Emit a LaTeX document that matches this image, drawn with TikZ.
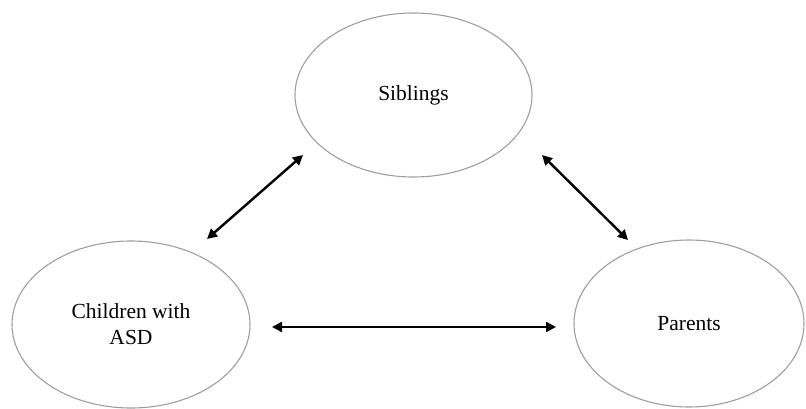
\documentclass[tikz,border=0pt]{standalone}
\usepackage{fontspec}
\setmainfont{Liberation Serif}
\usetikzlibrary{shapes.geometric,arrows.meta}
\begin{document}
\begin{tikzpicture}[x=1pt,y=-1pt,
  circ/.style={draw=black!38, line width=1.1pt, ellipse, inner sep=0pt, font=\fontsize{21.5}{26}\selectfont, align=center},
  link/.style={line width=2.4pt, {Triangle[length=10pt,width=10pt]}-{Triangle[length=10pt,width=10pt]}}]
\useasboundingbox (0,0) rectangle (806,409);
\node[circ, minimum width=237pt, minimum height=164pt] (sib) at (413.5,95) {Siblings};
\node[circ, minimum width=238pt, minimum height=167pt] (chi) at (131,324.5) {Children with\\ASD};
\node[circ, minimum width=230pt, minimum height=167pt] (par) at (689,323.5) {Parents};
\coordinate (sl) at (303,155);
\coordinate (cl) at (207,239);
\coordinate (sr) at (542,155);
\coordinate (pr) at (628,240);
\coordinate (ch) at (272,327);
\coordinate (ph) at (556,327);
\draw[link] (sl) -- (cl);
\draw[link] (sr) -- (pr);
\draw[link] (ch) -- (ph);
\end{tikzpicture}
\end{document}
